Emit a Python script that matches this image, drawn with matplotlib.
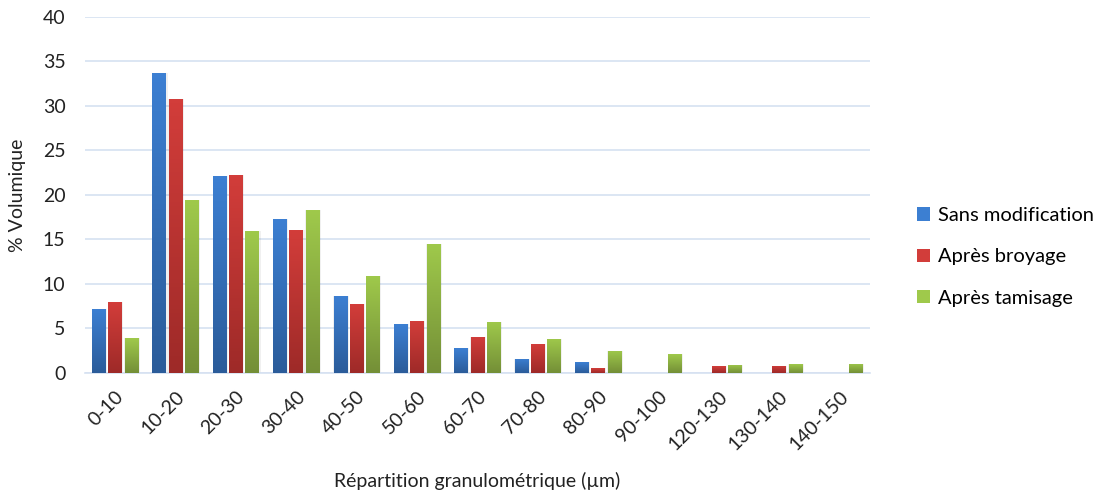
import numpy as np
import matplotlib
matplotlib.use("Agg")
import matplotlib.pyplot as plt
from matplotlib.colors import LinearSegmentedColormap
from matplotlib.patches import Patch

plt.rcParams['font.family'] = ['Lato', 'DejaVu Sans']

# Particle size classes (µm) and volume fractions (%)
classes = ["0-10", "10-20", "20-30", "30-40", "40-50", "50-60", "60-70",
           "70-80", "80-90", "90-100", "120-130", "130-140", "140-150"]
sans_modif = [7.15, 33.7, 22.1, 17.3, 8.7, 5.5, 2.8, 1.6, 1.2, 0, 0, 0, 0]
apres_broyage = [7.95, 30.75, 22.25, 16.05, 7.75, 5.8, 4.05, 3.25, 0.55, 0, 0.75, 0.8, 0]
apres_tamisage = [3.9, 19.4, 15.9, 18.3, 10.9, 14.5, 5.75, 3.85, 2.5, 2.1, 0.9, 1.0, 1.05]

series = [
    ("Sans modification", sans_modif, "#3c7fd2", "#2b5c9a"),
    ("Après broyage", apres_broyage, "#d23d3a", "#9e2a28"),
    ("Après tamisage", apres_tamisage, "#9fc94b", "#748f37"),
]

fig = plt.figure(figsize=(10.94, 4.97), dpi=100)
ax = fig.add_axes([0.0777, 0.2495, 0.7173, 0.7163])

x = np.arange(len(classes))
width = 0.225
step = 0.27

for i, (name, vals, c_top, c_bot) in enumerate(series):
    pos = x + (i - 1) * step
    bars = ax.bar(pos, vals, width, color=c_top, zorder=3, linewidth=0)
    cmap = LinearSegmentedColormap.from_list(name, [c_bot, c_top])
    grad = np.linspace(0, 1, 64).reshape(-1, 1)
    for b in bars:
        h = b.get_height()
        if h <= 0:
            continue
        bx = b.get_x()
        bw = b.get_width()
        # faint shadow around each bar
        ax.bar(bx + bw / 2 + 0.01, h + 0.05, bw + 0.03, bottom=-0.05, color="#000000",
               alpha=0.06, zorder=2, linewidth=0)
        im = ax.imshow(grad, extent=[bx, bx + bw, 0, h], origin="lower",
                       cmap=cmap, aspect="auto", zorder=4)
        im.set_clip_path(b)

ax.set_xlim(-0.5, len(classes) - 0.5)
ax.set_ylim(0, 40)
ax.set_yticks(np.arange(0, 41, 5))
ax.yaxis.grid(True, color="#d6e1f1", linewidth=1.2, zorder=0)
ax.set_axisbelow(True)
for s in ["top", "right", "left"]:
    ax.spines[s].set_visible(False)
ax.spines["bottom"].set_color("#d6e1f1")
ax.spines["bottom"].set_linewidth(1.2)
ax.tick_params(axis="both", length=0, labelsize=14, colors="#222222")
ax.tick_params(axis="y", pad=14)
ax.set_xticks(x)
ax.set_xticklabels(classes, rotation=45, ha="right", rotation_mode="anchor")
ax.tick_params(axis="x", pad=11)

ax.set_ylabel("% Volumique", fontsize=14, color="#222222", labelpad=12)
ax.set_xlabel("Répartition granulométrique (µm)", fontsize=14, color="#222222",
              labelpad=13)

handles = [Patch(facecolor=c, label=n) for n, _, c, _ in series]
fig.legend(handles=handles, loc="center left", bbox_to_anchor=(0.822, 0.483),
           frameon=False, fontsize=14.5, handlelength=0.65, handleheight=0.65,
           handletextpad=0.35, labelspacing=1.2)

fig.savefig("out.png", dpi=100)
